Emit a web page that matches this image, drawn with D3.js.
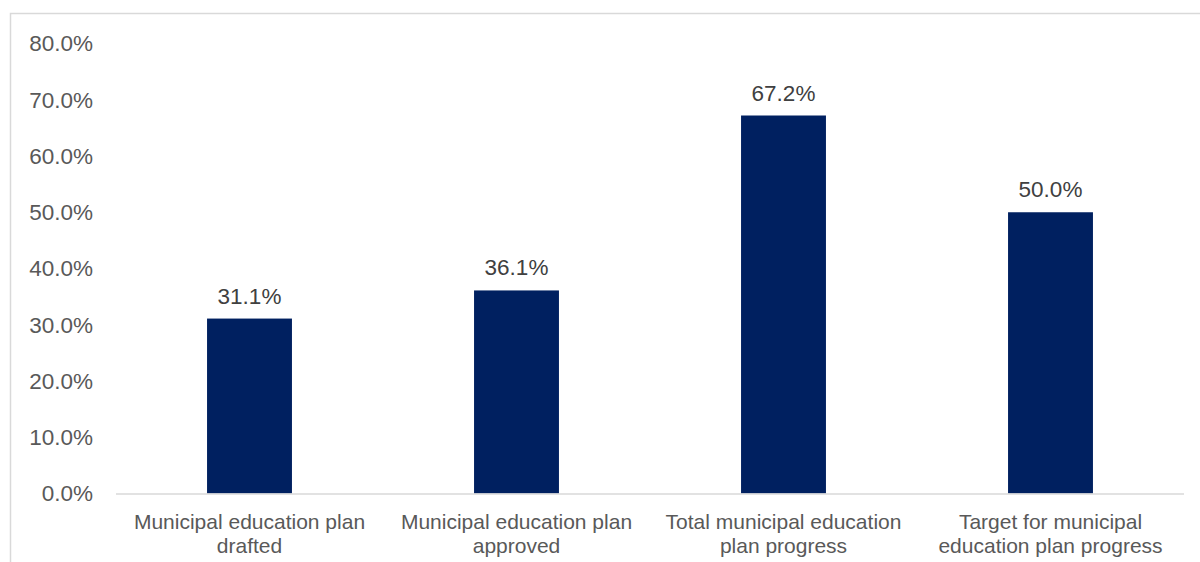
<!DOCTYPE html>
<html>
<head>
<meta charset="utf-8">
<script src="https://cdn.jsdelivr.net/npm/d3@7"></script>
<style>
  body { margin: 0; background: #fff; }
  svg { display: block; font-family: "Liberation Sans", Arial, sans-serif; }
</style>
</head>
<body>
<svg width="1200" height="562"></svg>
<script>
  // data
  const categories = [
    ["Municipal education plan", "drafted"],
    ["Municipal education plan", "approved"],
    ["Total municipal education", "plan progress"],
    ["Target for municipal", "education plan progress"]
  ];
  const values = [31.1, 36.1, 67.2, 50.0];
  const yTicks = [0, 10, 20, 30, 40, 50, 60, 70, 80];

  const svg = d3.select("svg");
  const textColor = "#595959";
  const fontSize = 21;
  const pctSize = 22.5;

  // chart frame
  svg.append("rect")
    .attr("x", 10.5).attr("y", 13.5)
    .attr("width", 1200).attr("height", 600)
    .attr("fill", "none")
    .attr("stroke", "#d9d9d9")
    .attr("stroke-width", 1.5);

  const x = d3.scaleBand()
    .domain(d3.range(categories.length))
    .range([116, 1184])
    .paddingInner(0.682)
    .paddingOuter(0.341);

  const y = d3.scaleLinear()
    .domain([0, 80])
    .range([493.5, 43.5]);

  // y tick labels
  svg.append("g")
    .selectAll("text")
    .data(yTicks)
    .join("text")
    .attr("x", 93)
    .attr("y", d => y(d))
    .attr("dy", "0.35em")
    .attr("text-anchor", "end")
    .attr("fill", textColor)
    .attr("font-size", pctSize)
    .text(d => d.toFixed(1) + "%");

  // bars
  svg.append("g")
    .selectAll("rect")
    .data(values)
    .join("rect")
    .attr("x", (d, i) => x(i))
    .attr("y", d => y(d))
    .attr("width", x.bandwidth())
    .attr("height", d => y(0) - y(d))
    .attr("fill", "#002060");

  // baseline
  svg.append("line")
    .attr("x1", 116).attr("x2", 1184)
    .attr("y1", y(0) + 0.5).attr("y2", y(0) + 0.5)
    .attr("stroke", "#d9d9d9")
    .attr("stroke-width", 1.5);

  // value labels
  svg.append("g")
    .selectAll("text")
    .data(values)
    .join("text")
    .attr("x", (d, i) => x(i) + x.bandwidth() / 2)
    .attr("y", d => y(d) - 15)
    .attr("text-anchor", "middle")
    .attr("fill", "#404040")
    .attr("font-size", pctSize)
    .text(d => d.toFixed(1) + "%");

  // category labels
  const cat = svg.append("g")
    .selectAll("text")
    .data(categories)
    .join("text")
    .attr("x", (d, i) => x(i) + x.bandwidth() / 2)
    .attr("y", 529)
    .attr("text-anchor", "middle")
    .attr("fill", textColor)
    .attr("font-size", fontSize);

  cat.selectAll("tspan")
    .data(d => d)
    .join("tspan")
    .attr("x", function () { return d3.select(this.parentNode).attr("x"); })
    .attr("dy", (d, i) => i === 0 ? 0 : 24)
    .text(d => d);
</script>
</body>
</html>
